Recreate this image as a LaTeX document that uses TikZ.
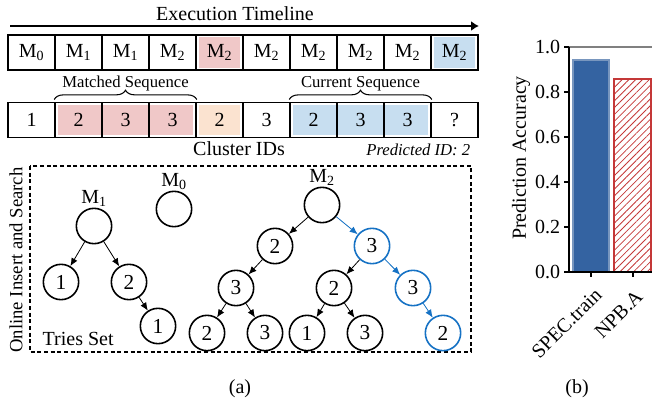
\documentclass[tikz,border=0pt]{standalone}
\usepackage{fontspec}
\setmainfont{Liberation Serif}
\usepackage{tikz}
\usetikzlibrary{arrows.meta,decorations.pathreplacing,backgrounds,patterns.meta}

\definecolor{pinkfill}{RGB}{240,200,200}
\definecolor{orangefill}{RGB}{251,227,208}
\definecolor{bluefill}{RGB}{199,222,240}
\definecolor{trieblue}{RGB}{22,114,196}
\definecolor{barblue}{RGB}{52,99,161}
\definecolor{baredge}{RGB}{120,150,190}
\definecolor{barred}{RGB}{196,56,56}

\tikzset{
  lbl/.style={font=\fontsize{15}{18}\selectfont},
  small/.style={font=\fontsize{12.5}{15}\selectfont},
  cell/.style={draw, line width=1.2pt, minimum width=35.25pt, minimum height=26.5pt, inner sep=0pt, lbl},
  tnode/.style={circle, draw, line width=1.2pt, minimum size=26.5pt, inner sep=0pt, font=\fontsize{16}{18}\selectfont},
  hot/.style={tnode, draw=trieblue},
  edge/.style={->, line width=0.6pt},
  hotedge/.style={edge, draw=trieblue, fill=trieblue},
  bracetop/.style={decorate, decoration={brace, amplitude=7pt}, line width=0.8pt},
}

\begin{document}
\begin{tikzpicture}[x=0.75pt,y=-0.75pt,>={Latex[length=6pt,width=5pt]}]
\useasboundingbox (0,0) rectangle (652,403);

% timeline
\node[lbl, anchor=base] (etl) at (235,21) {Execution Timeline};
\coordinate (tl0) at (10,26);
\coordinate (tl1) at (479,26);
\draw[-{Latex[length=6pt,width=7.5pt]}, line width=1.2pt] (tl0) -- (tl1);

\node[cell] (t1) at (31.5,52.5) {M\textsubscript{0}};
\node[cell] (t2) at (78.5,52.5) {M\textsubscript{1}};
\node[cell] (t3) at (125.5,52.5) {M\textsubscript{1}};
\node[cell] (t4) at (172.5,52.5) {M\textsubscript{2}};
\node[cell] (t5) at (219.5,52.5) {M\textsubscript{2}};
\node[cell] (t6) at (266.5,52.5) {M\textsubscript{2}};
\node[cell] (t7) at (313.5,52.5) {M\textsubscript{2}};
\node[cell] (t8) at (360.5,52.5) {M\textsubscript{2}};
\node[cell] (t9) at (407.5,52.5) {M\textsubscript{2}};
\node[cell] (t10) at (454.5,52.5) {M\textsubscript{2}};

% cluster ids
\node[cell] (c1) at (31.5,120) {1};
\node[cell] (c2) at (78.5,120) {2};
\node[cell] (c3) at (125.5,120) {3};
\node[cell] (c4) at (172.5,120) {3};
\node[cell] (c5) at (219.5,120) {2};
\node[cell] (c6) at (266.5,120) {3};
\node[cell] (c7) at (313.5,120) {2};
\node[cell] (c8) at (360.5,120) {3};
\node[cell] (c9) at (407.5,120) {3};
\node[cell] (c10) at (454.5,120) {?};

\begin{scope}[on background layer]
\fill[pinkfill] ([shift={(3pt,-2pt)}]t5.north west) rectangle ([shift={(-3pt,2pt)}]t5.south east);
\fill[bluefill] ([shift={(3pt,-2pt)}]t10.north west) rectangle ([shift={(-3pt,2pt)}]t10.south east);
\fill[pinkfill] ([shift={(3pt,-2.5pt)}]c2.north west) rectangle ([shift={(-3pt,2.5pt)}]c4.south east);
\fill[orangefill] ([shift={(3pt,-2.5pt)}]c5.north west) rectangle ([shift={(-3pt,2.5pt)}]c5.south east);
\fill[bluefill] ([shift={(3pt,-2.5pt)}]c7.north west) rectangle ([shift={(-3pt,2.5pt)}]c9.south east);
\end{scope}

\draw[bracetop] ([yshift=1.5pt]c2.north west) -- ([yshift=1.5pt]c4.north east);
\draw[bracetop] ([yshift=1.5pt]c7.north west) -- ([yshift=1.5pt]c9.north east);
\node[small, anchor=base] (mseq) at (125.5,88) {Matched Sequence};
\node[small, anchor=base] (cseq) at (360.5,88) {Current Sequence};
\node[lbl, anchor=base] (cid) at (239,155) {Cluster IDs};
\node[small, anchor=base east, font=\fontsize{12.5}{15}\selectfont\itshape] (pred) at (475,155) {Predicted ID: 2};

% tries set
\draw[dashed, dash pattern=on 3pt off 2pt, line width=1.2pt] (30,166) rectangle (471,352);
\node[lbl, rotate=90, font=\fontsize{14}{17}\selectfont] (side) at (16,260) {Online Insert and Search};
\node[lbl, anchor=base west] (tries) at (38,345) {Tries Set};

\node[tnode, label={[lbl,inner sep=0.5pt]above:M\textsubscript{1}}] (m1) at (94,226) {};
\node[tnode] (m1a) at (61,282) {1};
\node[tnode] (m1b) at (129,282) {2};
\node[tnode] (m1ba) at (158,326) {1};
\node[tnode, label={[lbl,inner sep=0.5pt]above:M\textsubscript{0}}] (m0) at (174,209) {};
\node[tnode, label={[lbl,inner sep=0.5pt]above:M\textsubscript{2}}] (m2) at (322,205) {};
\node[tnode] (m2a) at (275,246) {2};
\node[hot] (m2b) at (372,246) {3};
\node[tnode] (m2aa) at (236,288) {3};
\node[tnode] (m2aaa) at (207,333) {2};
\node[tnode] (m2aab) at (265,333) {3};
\node[tnode] (m2ba) at (334,288) {2};
\node[hot] (m2bb) at (413,288) {3};
\node[tnode] (m2baa) at (307,333) {1};
\node[tnode] (m2bab) at (365,333) {3};
\node[hot] (m2bba) at (443,333) {2};

\draw[edge] (m1) -- (m1a);
\draw[edge] (m1) -- (m1b);
\draw[edge] (m1b) -- (m1ba);
\draw[edge] (m2) -- (m2a);
\draw[edge] (m2a) -- (m2aa);
\draw[edge] (m2aa) -- (m2aaa);
\draw[edge] (m2aa) -- (m2aab);
\draw[edge] (m2b) -- (m2ba);
\draw[edge] (m2ba) -- (m2baa);
\draw[edge] (m2ba) -- (m2bab);
\draw[hotedge] (m2) -- (m2b);
\draw[hotedge] (m2b) -- (m2bb);
\draw[hotedge] (m2bb) -- (m2bba);

% bar chart
\draw[fill=barblue, draw=baredge, line width=0.8pt] (573,272) rectangle (609,60);
\draw[draw=barred, pattern={Lines[angle=45,distance=3.6pt,line width=0.6pt]}, pattern color=barred, line width=0.8pt] (614,272) rectangle (651,79);
\draw[gray, line width=0.8pt] (569,47) -- (652,47);
\draw[line width=0.8pt] (569,47) -- (569,272) -- (652,272);
\draw[line width=0.8pt] (564,272) -- (569,272);
\draw[line width=0.8pt] (564,227) -- (569,227);
\draw[line width=0.8pt] (564,182) -- (569,182);
\draw[line width=0.8pt] (564,137) -- (569,137);
\draw[line width=0.8pt] (564,92) -- (569,92);
\draw[line width=0.8pt] (564,47) -- (569,47);
\node[lbl, anchor=east, inner sep=2pt] (y0) at (563,272) {0.0};
\node[lbl, anchor=east, inner sep=2pt] (y2) at (563,227) {0.2};
\node[lbl, anchor=east, inner sep=2pt] (y4) at (563,182) {0.4};
\node[lbl, anchor=east, inner sep=2pt] (y6) at (563,137) {0.6};
\node[lbl, anchor=east, inner sep=2pt] (y8) at (563,92) {0.8};
\node[lbl, anchor=east, inner sep=2pt] (y10) at (563,47) {1.0};
\node[lbl, rotate=90] (ylab) at (521,158) {Prediction Accuracy};
\draw[line width=0.8pt] (591,272) -- (591,277);
\draw[line width=0.8pt] (633,272) -- (633,277);
\node[lbl, rotate=45, anchor=base east, inner sep=0pt] (xl1) at (603,296) {SPEC.train};
\node[lbl, rotate=45, anchor=base east, inner sep=0pt] (xl2) at (644,298) {NPB.A};

\node[lbl] (capa) at (240,389) {(a)};
\node[lbl] (capb) at (577,389) {(b)};
\end{tikzpicture}
\end{document}
